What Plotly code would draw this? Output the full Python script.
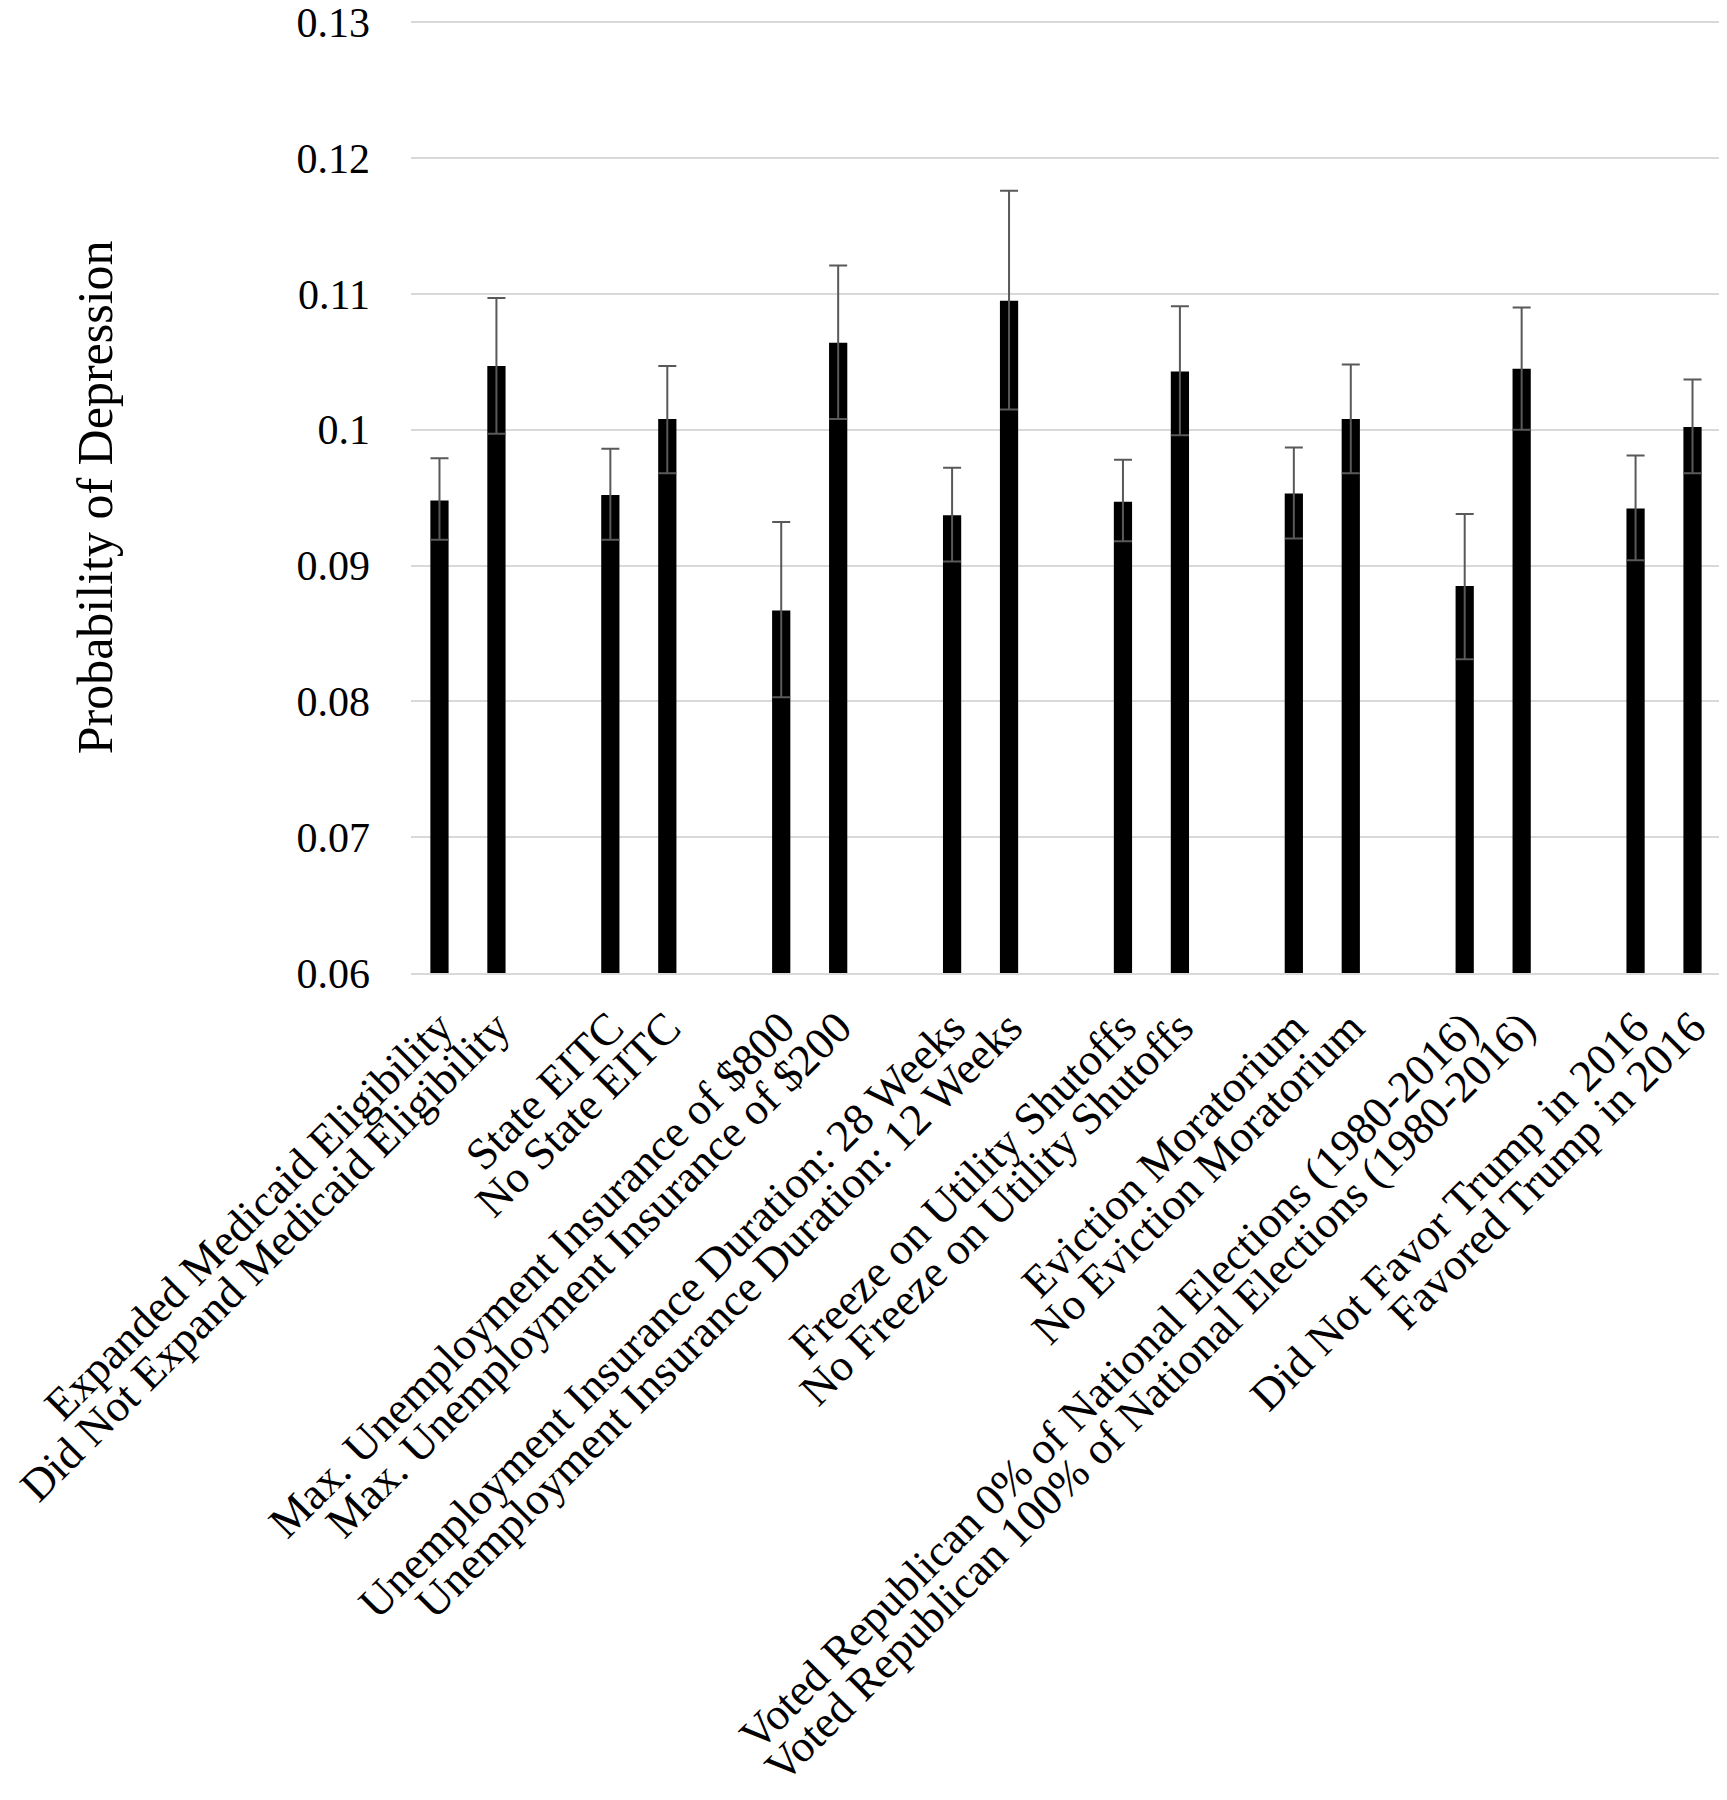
import plotly.graph_objects as go

labels = [
    "Expanded Medicaid Eligibility",
    "Did Not Expand Medicaid Eligibility",
    "State EITC",
    "No State EITC",
    "Max. Unemployment Insurance of $800",
    "Max. Unemployment Insurance of $200",
    "Unemployment Insurance Duration: 28 Weeks",
    "Unemployment Insurance Duration: 12 Weeks",
    "Freeze on Utility Shutoffs",
    "No Freeze on Utility Shutoffs",
    "Eviction Moratorium",
    "No Eviction Moratorium",
    "Voted Republican 0% of National Elections (1980-2016)",
    "Voted Republican 100% of National Elections (1980-2016)",
    "Did Not Favor Trump in 2016",
    "Favored Trump in 2016",
]
values = [0.0948, 0.1047, 0.0952, 0.1008, 0.0867, 0.1064, 0.0937, 0.1095,
          0.0947, 0.1043, 0.0953, 0.1008, 0.0885, 0.1045, 0.0942, 0.1002]
err_plus = [0.0031, 0.0050, 0.0034, 0.0039, 0.0065, 0.0057, 0.0035, 0.0081,
            0.0031, 0.0048, 0.0034, 0.0040, 0.0053, 0.0045, 0.0039, 0.0035]
err_minus = [0.0029, 0.0050, 0.0033, 0.0040, 0.0064, 0.0056, 0.0034, 0.0080,
             0.0029, 0.0047, 0.0033, 0.0040, 0.0054, 0.0045, 0.0038, 0.0034]
y_ticks = [0.06, 0.07, 0.08, 0.09, 0.1, 0.11, 0.12, 0.13]
y_ticktext = ["0.06", "0.07", "0.08", "0.09", "0.1", "0.11", "0.12", "0.13"]

# two bars per group, one empty slot between groups
xpos = [3 * (i // 2) + (i % 2) for i in range(len(labels))]

FONT = "Liberation Serif"

fig = go.Figure(go.Bar(
    x=xpos, y=values, width=0.32,
    marker=dict(color="black", line=dict(width=0)),
    error_y=dict(type="data", symmetric=False, array=err_plus, arrayminus=err_minus,
                 color="#595959", thickness=2, width=9),
))

fig.update_layout(
    width=1719, height=1792,
    paper_bgcolor="white", plot_bgcolor="white",
    margin=dict(l=403, r=6, t=13, b=827, autoexpand=False),
    font=dict(family=FONT, color="black", size=44),
    showlegend=False,
    xaxis=dict(
        range=[-0.5, 22.5], tickmode="array", tickvals=xpos, ticktext=labels,
        tickangle=-45, showgrid=False, zeroline=False, showline=True,
        linecolor="#d9d9d9", linewidth=2, ticks="", automargin=False,
        ticklabeloverflow="allow",
        tickfont=dict(family=FONT, size=45, color="black"), ticklabelstandoff=8,
    ),
    yaxis=dict(
        range=[0.06, 0.1301], tickmode="array", tickvals=y_ticks, ticktext=y_ticktext,
        showgrid=True, gridcolor="#d9d9d9", gridwidth=2, zeroline=False,
        showline=False, ticks="", automargin=False,
        ticklabeloverflow="allow",
        tickfont=dict(family=FONT, size=42, color="black"), ticklabelstandoff=40,
    ),
    annotations=[dict(
        text="Probability of Depression", xref="paper", yref="paper",
        x=-0.241, y=0.5, xanchor="center", yanchor="middle", textangle=-90,
        showarrow=False, font=dict(family=FONT, size=50, color="black"),
    )],
)

fig.write_html("out.html")
